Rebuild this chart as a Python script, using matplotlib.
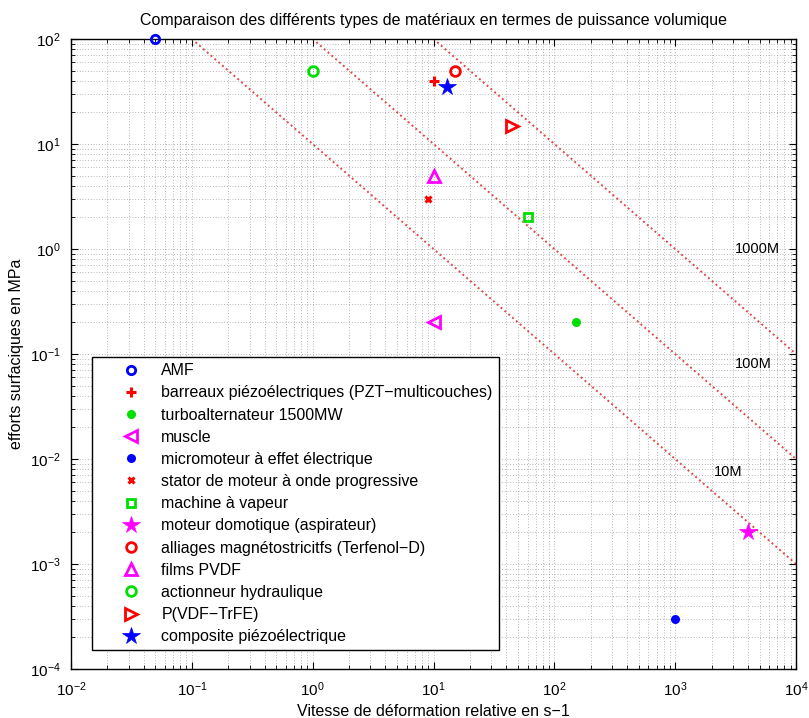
import matplotlib
matplotlib.use('Agg')
import matplotlib.pyplot as plt

plt.rcParams['font.family'] = ['Liberation Sans', 'DejaVu Sans']
plt.rcParams['mathtext.default'] = 'regular'

# materials: (label, strain rate s-1, stress MPa)
labels = [
    'AMF',
    'barreaux piézoélectriques (PZT−multicouches)',
    'turboalternateur 1500MW',
    'muscle',
    'micromoteur à effet électrique',
    'stator de moteur à onde progressive',
    'machine à vapeur',
    'moteur domotique (aspirateur)',
    'alliages magnétostricitfs (Terfenol−D)',
    'films PVDF',
    'actionneur hydraulique',
    'P(VDF−TrFE)',
    'composite piézoélectrique',
]
strain_rate = [0.05, 10, 150, 10, 1000, 9, 60, 4000, 15, 10, 1, 45, 13]
stress = [100, 40, 0.2, 0.2, 3e-4, 3, 2, 2e-3, 50, 5, 50, 15, 35]

# iso-power lines (MW/m3) given by their end points
iso_x = [1e-2, 1e4]
iso_10M_y = [1e3, 1e-3]
iso_100M_y = [1e4, 1e-2]
iso_1000M_y = [1e5, 1e-1]
iso_labels = ['10M', '100M', '1000M']
iso_label_x = [2100, 3100, 3100]
iso_label_y = [7.5e-3, 0.08, 1.0]

# marker styles (matlab like)
styles = [
    dict(marker='o', color='#0000ff', mfc='none', ms=6, mew=2),
    dict(marker='+', color='#ff0000', ms=7, mew=2.2),
    dict(marker='o', color='#00e000', mfc='#00e000', ms=6.5, mew=0),
    dict(marker='<', color='#ff00ff', mfc='none', ms=8, mew=2),
    dict(marker='o', color='#0000ff', mfc='#0000ff', ms=6.5, mew=0),
    dict(marker='x', color='#ff0000', ms=4.5, mew=2.2),
    dict(marker='s', color='#00e000', mfc='none', ms=6, mew=2),
    dict(marker='*', color='#ff00ff', mfc='#ff00ff', ms=13, mew=0.5),
    dict(marker='o', color='#ff0000', mfc='none', ms=7, mew=2),
    dict(marker='^', color='#ff00ff', mfc='none', ms=8, mew=2),
    dict(marker='o', color='#00e000', mfc='none', ms=7, mew=2),
    dict(marker='>', color='#ff0000', mfc='none', ms=8, mew=2),
    dict(marker='*', color='#0000ff', mfc='#0000ff', ms=13, mew=0.5),
]

fig = plt.figure(figsize=(8.09, 7.18), dpi=100)
ax = fig.add_axes([0.0878, 0.0682, 0.8962, 0.8775])
ax.set_xscale('log')
ax.set_yscale('log')
ax.set_xlim(1e-2, 1e4)
ax.set_ylim(1e-4, 1e2)

for iso_y in (iso_10M_y, iso_100M_y, iso_1000M_y):
    ax.plot(iso_x, iso_y, linestyle=(0, (1, 1.6)), color='#e04848', linewidth=1.4, zorder=2)
for text, tx, ty in zip(iso_labels, iso_label_x, iso_label_y):
    ax.text(tx, ty, text, fontsize=10.5, va='center', ha='left', zorder=3)

for label, x, y, st in zip(labels, strain_rate, stress, styles):
    ax.plot([x], [y], linestyle='none', label=label, zorder=5, clip_on=False, **st)

ax.grid(True, which='both', linestyle=(0, (1, 3)), color='#777777', linewidth=0.5)
ax.tick_params(which='both', direction='in', top=True, right=True, labelsize=11)
ax.tick_params(axis='x', which='major', pad=8.5)
ax.tick_params(axis='y', which='major', pad=7.5)
ax.tick_params(which='major', length=5)
ax.tick_params(which='minor', length=3)
for spine in ax.spines.values():
    spine.set_linewidth(1.0)

ax.set_title('Comparaison des différents types de matériaux en termes de puissance volumique',
             fontsize=11.5, pad=10)
ax.set_xlabel('Vitesse de déformation relative en s−1', fontsize=11.5, labelpad=3)
ax.set_ylabel('efforts surfaciques en MPa', fontsize=11.5, labelpad=4)

leg = ax.legend(loc='lower left', bbox_to_anchor=(0.029, 0.030), fontsize=11.5,
                numpoints=1, handlelength=4.2, handletextpad=-0.22, borderpad=0.36,
                labelspacing=0.45, fancybox=False, framealpha=1, borderaxespad=0)
leg.get_frame().set_edgecolor('black')
leg.get_frame().set_linewidth(1.0)

fig.savefig('out.png', dpi=100)
